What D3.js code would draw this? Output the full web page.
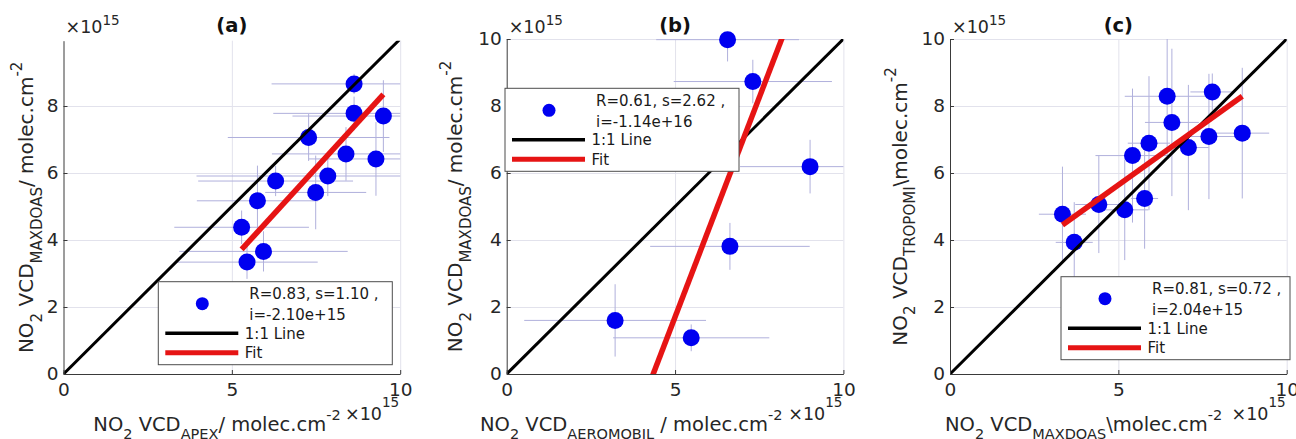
<!DOCTYPE html>
<html><head><meta charset="utf-8">
<script src="https://cdn.jsdelivr.net/npm/d3@7"></script>
<style>
body{margin:0;background:#fff}
svg{display:block}
text{font-family:"DejaVu Sans",sans-serif}
</style>
</head><body>
<svg id="chart" width="1296" height="439"></svg>
<script>
// ---------- data (values in units of 1e15 molec.cm^-2) ----------
const panelTitles = ["(a)", "(b)", "(c)"];
const xTickValues = [0, 5, 10];
const yTickValuesA = [0, 2, 4, 6, 8];
const yTickValuesBC = [0, 2, 4, 6, 8, 10];
const yMaxValues = [9.95, 10, 10];

// (a) APEX vs MAXDOAS
const aX    = [8.63, 8.63, 9.50, 7.28, 8.39, 9.28, 7.85, 6.30, 7.49, 5.76, 5.29, 5.94, 5.45];
const aY    = [8.66, 7.78, 7.70, 7.06, 6.57, 6.42, 5.91, 5.76, 5.42, 5.17, 4.38, 3.66, 3.34];
const aXErr = [2.45, 2.40, 2.70, 2.40, 2.20, 2.00, 3.90, 2.30, 1.50, 1.80, 2.00, 2.50, 2.10];
const aYErr = [0.30, 0.50, 1.07, 0.70, 0.80, 1.10, 0.60, 0.45, 1.10, 1.05, 0.50, 0.60, 0.50];

// (b) AEROMOBIL vs MAXDOAS
const bX    = [6.56, 7.31, 9.01, 6.63, 3.22, 5.48];
const bY    = [9.98, 8.73, 6.19, 3.81, 1.60, 1.08];
const bXErr = [2.12, 2.35, 2.08, 2.37, 2.70, 2.32];
const bYErr = [0.65, 0.65, 0.80, 0.70, 1.08, 0.40];

// (c) MAXDOAS vs TROPOMI
const cX    = [7.79, 6.45, 6.59, 8.68, 7.69, 7.08, 5.91, 5.42, 5.78, 4.42, 5.19, 3.34, 3.69];
const cY    = [8.42, 8.29, 7.51, 7.19, 7.09, 6.76, 6.89, 6.52, 5.24, 5.06, 4.90, 4.77, 3.93];
const cXErr = [0.65, 1.26, 0.80, 0.80, 0.80, 0.60, 0.63, 1.10, 0.40, 0.70, 0.70, 0.70, 0.55];
const cYErr = [0.55, 1.75, 2.20, 1.95, 1.87, 1.87, 2.00, 2.00, 1.50, 1.45, 1.50, 1.42, 1.20];

// fit results (from legends)
const fitSlopes = [1.10, 2.62, 0.72];
const fitIntercepts = [-2.10, -11.4, 2.04];
const legendLine1 = ["R=0.83, s=1.10 ,", "R=0.61, s=2.62 ,", "R=0.81, s=0.72 ,"];
const legendLine2 = ["i=-2.10e+15", "i=-1.14e+16", "i=2.04e+15"];
const legendLabels = ["1:1 Line", "Fit"];

// axis label pieces
const xLabelSubs = ["APEX", "AEROMOBIL", "MAXDOAS"];
const xLabelRest = ["/ molec.cm", " / molec.cm", "\\molec.cm"];
const yLabelSubs = ["MAXDOAS", "MAXDOAS", "TROPOMI"];
const yLabelRest = ["/ molec.cm", "/ molec.cm", "\\molec.cm"];

// ---------- layout / style ----------
const X0 = [63.5, 506.7, 950], W = 336.7, YB = 374, UNIT = 33.5;
const legendPos = [[158.3, 281.7], [505, 88.3], [1061, 276.7]];
const legendW = [234, 234, 229];
const xLabelStart = [93.3, 480, 945];
const yLabelX = [33.3, 462.3, 906.7];
const BLUE = "#0000f0", RED = "#e61414", AXIS = "#3a3a3a", TXT = "#262626";
const GRID = "#e2e2ec", ERR = "#b0b0dc";

const panels = [
  {x: aX, y: aY, xe: aXErr, ye: aYErr, yt: yTickValuesA},
  {x: bX, y: bY, xe: bXErr, ye: bYErr, yt: yTickValuesBC},
  {x: cX, y: cY, xe: cXErr, ye: cYErr, yt: yTickValuesBC}
];

const svg = d3.select("#chart");
const defs = svg.append("defs");

function labelText(sel, sub, rest, fs) {
  sel.append("tspan").text("NO");
  sel.append("tspan").attr("dy", 8.5).attr("font-size", fs).text("2");
  sel.append("tspan").attr("dy", -8.5).text(" VCD");
  sel.append("tspan").attr("dy", 8.5).attr("font-size", fs).text(sub);
  sel.append("tspan").attr("dy", -8.5).text(rest);
  sel.append("tspan").attr("dy", -11).attr("font-size", fs).text("-2");
}

panels.forEach((p, k) => {
  const ymax = yMaxValues[k];
  const x = d3.scaleLinear([0, 10], [X0[k], X0[k] + W]);
  const y = d3.scaleLinear([0, ymax], [YB, YB - ymax * UNIT]);
  const H = YB - y(ymax);
  const g = svg.append("g");

  const clipId = "clip" + k;
  defs.append("clipPath").attr("id", clipId).append("rect")
    .attr("x", x(0)).attr("y", y(ymax)).attr("width", W).attr("height", H);

  // grid
  g.append("g").attr("transform", `translate(0,${YB})`)
    .call(d3.axisBottom(x).tickValues(xTickValues.filter(v => v > 0)).tickSize(-H).tickFormat(""))
    .call(s => { s.select(".domain").remove(); s.selectAll("line").attr("stroke", GRID); });
  g.append("g").attr("transform", `translate(${x(0)},0)`)
    .call(d3.axisLeft(y).tickValues(p.yt.filter(v => v > 0)).tickSize(-W).tickFormat(""))
    .call(s => { s.select(".domain").remove(); s.selectAll("line").attr("stroke", GRID); });

  // error bars
  const eb = g.append("g").attr("clip-path", `url(#${clipId})`)
    .attr("stroke", ERR).attr("stroke-width", 1);
  p.x.forEach((xv, i) => {
    const yv = p.y[i];
    eb.append("line").attr("x1", x(xv - p.xe[i])).attr("x2", x(xv + p.xe[i]))
      .attr("y1", y(yv)).attr("y2", y(yv));
    eb.append("line").attr("x1", x(xv)).attr("x2", x(xv))
      .attr("y1", y(yv - p.ye[i])).attr("y2", y(yv + p.ye[i]));
  });

  // points
  g.append("g").selectAll("circle").data(p.x).join("circle")
    .attr("cx", d => x(d)).attr("cy", (d, i) => y(p.y[i])).attr("r", 8.5).attr("fill", BLUE);

  // lines
  const ln = g.append("g").attr("clip-path", `url(#${clipId})`);
  ln.append("line").attr("x1", x(0)).attr("y1", y(0)).attr("x2", x(10)).attr("y2", y(10))
    .attr("stroke", "#000").attr("stroke-width", 3);
  const xmin = d3.min(p.x), xmax = d3.max(p.x);
  const s = fitSlopes[k], b = fitIntercepts[k];
  ln.append("line").attr("x1", x(xmin)).attr("y1", y(s * xmin + b))
    .attr("x2", x(xmax)).attr("y2", y(s * xmax + b))
    .attr("stroke", RED).attr("stroke-width", 5.5);

  // axes
  const styleAxis = sel => {
    sel.select(".domain").attr("stroke", AXIS);
    sel.selectAll(".tick line").attr("stroke", AXIS);
    sel.selectAll("text").attr("fill", TXT).attr("font-size", 18.5)
      .attr("font-family", '"DejaVu Sans", sans-serif');
  };
  g.append("g").attr("transform", `translate(0,${YB})`)
    .call(d3.axisBottom(x).tickValues(xTickValues).tickSizeInner(-4).tickSizeOuter(0).tickPadding(9))
    .call(styleAxis);
  g.append("g").attr("transform", `translate(${x(0)},0)`)
    .call(d3.axisLeft(y).tickValues(p.yt).tickSizeInner(-4).tickSizeOuter(0).tickPadding(5))
    .call(styleAxis);

  // title
  g.append("text").attr("x", x(5)).attr("y", 32).attr("text-anchor", "middle")
    .attr("font-weight", "bold").attr("font-size", 19.5).attr("fill", "#111").text(panelTitles[k]);

  // top exponent
  const te = g.append("text").attr("x", x(0) + 2).attr("y", 33.3).attr("font-size", 17.5).attr("fill", TXT);
  te.append("tspan").text("\u00d710");
  te.append("tspan").attr("dy", -8).attr("font-size", 13.5).text("15");

  // x exponent
  const xe = g.append("text").attr("x", x(10) - 1).attr("y", 420).attr("text-anchor", "end")
    .attr("font-size", 17.5).attr("fill", TXT);
  xe.append("tspan").text("\u00d710");
  xe.append("tspan").attr("dy", -13).attr("font-size", 13.5).text("15");

  // x label
  const xl = g.append("text").attr("x", xLabelStart[k]).attr("y", 430.5)
    .attr("font-size", 19.5).attr("fill", TXT);
  labelText(xl, xLabelSubs[k], xLabelRest[k], 14.5);

  // y label
  const yl = g.append("text")
    .attr("transform", `translate(${yLabelX[k]},${(YB + y(ymax)) / 2}) rotate(-90)`)
    .attr("text-anchor", "middle").attr("font-size", 20).attr("fill", TXT);
  labelText(yl, yLabelSubs[k], yLabelRest[k], 15);

  // legend
  const [lx, ly] = legendPos[k];
  const lg = svg.append("g").attr("transform", `translate(${lx},${ly})`)
    .attr("font-size", 15).attr("fill", "#1a1a1a");
  lg.append("rect").attr("width", legendW[k]).attr("height", 83)
    .attr("fill", "#fff").attr("stroke", "#4d4d4d").attr("stroke-width", 1);
  lg.append("circle").attr("cx", 44).attr("cy", 22).attr("r", 6.5).attr("fill", BLUE);
  lg.append("text").attr("x", 91).attr("y", 17.5).text(legendLine1[k]);
  lg.append("text").attr("x", 91).attr("y", 38.5).text(legendLine2[k]);
  lg.append("line").attr("x1", 7).attr("x2", 80).attr("y1", 51.5).attr("y2", 51.5)
    .attr("stroke", "#000").attr("stroke-width", 3.5);
  lg.append("text").attr("x", 86.5).attr("y", 57).text(legendLabels[0]);
  lg.append("line").attr("x1", 7).attr("x2", 80).attr("y1", 71).attr("y2", 71)
    .attr("stroke", RED).attr("stroke-width", 5);
  lg.append("text").attr("x", 86.5).attr("y", 76.5).text(legendLabels[1]);
});
</script>
</body></html>
